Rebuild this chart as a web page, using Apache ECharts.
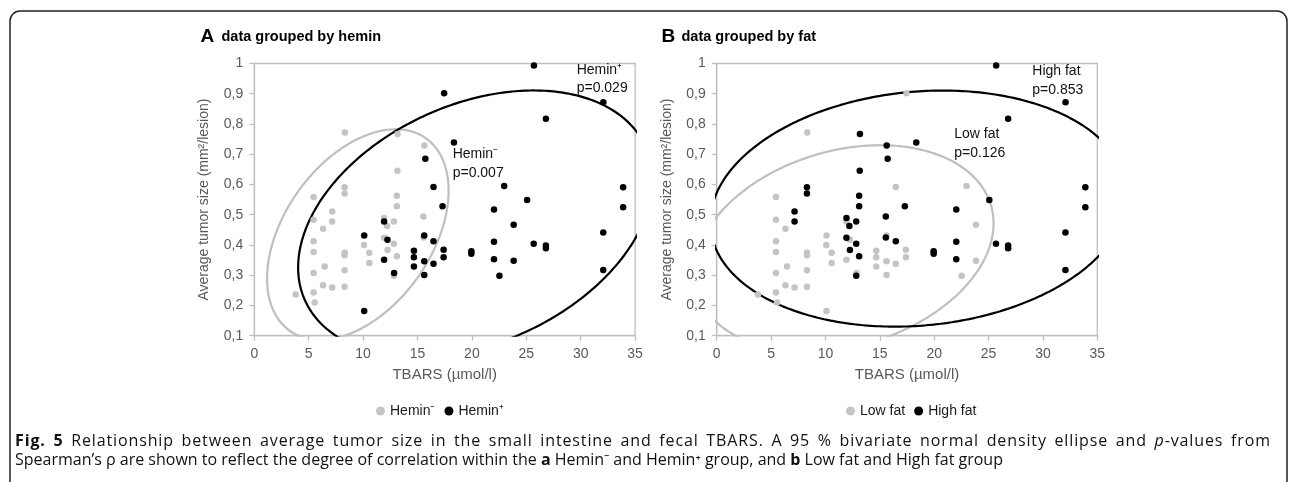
<!DOCTYPE html>
<html><head><meta charset="utf-8">
<script src="https://cdn.jsdelivr.net/npm/echarts@6/dist/echarts.min.js"></script>
<style>html,body{margin:0;padding:0;background:#fff}#c{width:1290px;height:482px}</style>
</head><body><div id="c"></div>
<script>
// ---- data (TBARS µmol/l, average tumor size mm²/lesion) ----
const xTickLabels = ['0','5','10','15','20','25','30','35'];
const yTickLabels = ['0,1','0,2','0,3','0,4','0,5','0,6','0,7','0,8','0,9','1'];

const heminNegLowFat = [[5.45,0.559],[5.45,0.483],[6.32,0.454],[5.45,0.412],[5.45,0.377],[8.3,0.374],[8.3,0.366],[6.47,0.329],[5.45,0.307],[8.3,0.316],[6.32,0.267],[7.16,0.259],[8.3,0.262],[5.45,0.243],[3.8,0.236],[5.55,0.21],[10.08,0.40],[10.57,0.374],[10.57,0.34],[8.33,0.772]];
const heminNegHighFat = [[8.3,0.591],[8.3,0.570],[7.16,0.511],[7.16,0.478],[11.93,0.489],[12.2,0.463],[11.93,0.424],[12.25,0.383],[12.83,0.478],[12.83,0.404],[12.83,0.298],[13.1,0.563],[13.1,0.528],[13.1,0.363],[13.15,0.645],[15.55,0.494],[15.55,0.425],[15.63,0.729],[13.17,0.767]];
const heminPosLowFat = [[10.1,0.431],[10.1,0.182],[11.93,0.478],[12.24,0.417],[11.93,0.351],[12.85,0.307],[14.67,0.381],[14.67,0.359],[14.67,0.329],[15.62,0.431],[15.62,0.346],[15.62,0.301],[16.47,0.592],[16.47,0.338],[17.4,0.384],[17.4,0.359],[17.45,0.902],[22.97,0.595],[23.84,0.467],[23.84,0.348],[22.53,0.298]];
const heminPosHighFat = [[16.47,0.412],[17.3,0.528],[19.95,0.379],[19.95,0.371],[18.35,0.739],[15.72,0.685],[25.7,0.993],[32.08,0.872],[26.8,0.817],[33.9,0.591],[25.07,0.549],[33.9,0.525],[22.03,0.517],[32.07,0.441],[22.03,0.411],[25.68,0.404],[26.8,0.398],[26.8,0.389],[22.03,0.353],[32.07,0.317]];

const groupNamesA = ['Hemin\u207B','Hemin\u207A'];
const groupNamesB = ['Low fat','High fat'];
const pValuesA = ['p=0.007','p=0.029'];
const pValuesB = ['p=0.126','p=0.853'];
const CHI2_95_2DF = 5.991;

const captionLine1 = '{b|Fig. 5} Relationship between average tumor size in the small intestine and fecal TBARS. A 95 % bivariate normal density ellipse and {i|p}-values from';
const captionLine2 = 'Spearman\u2019s \u03C1 are shown to reflect the degree of correlation within the {b|a} Hemin\u207B and Hemin\u207A group, and {b|b} Low fat and High fat group';

// ---- derived groups ----
const heminNeg = heminNegLowFat.concat(heminNegHighFat);
const heminPos = heminPosLowFat.concat(heminPosHighFat);
const lowFat = heminNegLowFat.concat(heminPosLowFat);
const highFat = heminNegHighFat.concat(heminPosHighFat);

function densityEllipse(pts, k2, steps) {
  const n = pts.length;
  let mx = 0, my = 0;
  pts.forEach(p => { mx += p[0]; my += p[1]; });
  mx /= n; my /= n;
  let sxx = 0, syy = 0, sxy = 0;
  pts.forEach(p => { const dx = p[0]-mx, dy = p[1]-my; sxx += dx*dx; syy += dy*dy; sxy += dx*dy; });
  sxx /= (n-1); syy /= (n-1); sxy /= (n-1);
  const l11 = Math.sqrt(sxx), l21 = sxy/l11, l22 = Math.sqrt(syy - l21*l21);
  const k = Math.sqrt(k2), out = [];
  for (let i = 0; i <= steps; i++) {
    const t = 2*Math.PI*i/steps, u = Math.cos(t), v = Math.sin(t);
    out.push([mx + k*l11*u, my + k*(l21*u + l22*v)]);
  }
  return out;
}

const GRAY = '#c4c4c4', BLACK = '#000000', AXIS = '#bfbfbf', TICK_TXT = '#595959';
const FAM = "'Liberation Sans', Arial, sans-serif";
const CAPFAM = "'Open Sans', sans-serif";

function xAxis(gi) {
  return { type:'value', gridIndex:gi, min:0, max:35, interval:5,
    name:'TBARS (\u00B5mol/l)', nameLocation:'middle', nameGap:32,
    nameTextStyle:{ fontSize:15, color:TICK_TXT, fontFamily:FAM },
    axisLine:{ lineStyle:{ color:AXIS, width:1.3 } },
    axisTick:{ show:true, length:5, lineStyle:{ color:AXIS, width:1.3 } },
    splitLine:{ show:false },
    axisLabel:{ fontSize:14, color:TICK_TXT, fontFamily:FAM, margin:11,
      formatter:(v)=> xTickLabels[Math.round(v/5)] } };
}
function yAxis(gi) {
  return { type:'value', gridIndex:gi, min:0.1, max:1, interval:0.1,
    name:'Average tumor size (mm\u00B2/lesion)', nameLocation:'middle', nameGap:43, nameRotate:90,
    nameTextStyle:{ fontSize:14, color:TICK_TXT, fontFamily:FAM },
    axisLine:{ show:true, lineStyle:{ color:AXIS, width:1.3 } },
    axisTick:{ show:true, length:5, lineStyle:{ color:AXIS, width:1.3 } },
    splitLine:{ show:false },
    axisLabel:{ fontSize:14, color:TICK_TXT, fontFamily:FAM, margin:11,
      formatter:(v)=> yTickLabels[Math.round(v*10)-1] } };
}
function ell(pts, color, gi, name) {
  return { type:'line', name:name, xAxisIndex:gi, yAxisIndex:gi, data:densityEllipse(pts, CHI2_95_2DF, 360),
    showSymbol:false, symbol:'none', clip:true, smooth:false, z:2, silent:true,
    lineStyle:{ color:color, width:2.2 } };
}
function sc(pts, color, gi, name) {
  return { type:'scatter', name:name, xAxisIndex:gi, yAxisIndex:gi, data:pts, symbol:'circle', symbolSize:6.5,
    itemStyle:{ color:color, opacity:1 }, z:3 };
}
function txt(x, y, s, font, fill) {
  return { type:'text', left:x, top:y - 9, style:{ text:s, font:font, fill:fill||'#111', verticalAlign:'top' } };
}

// ---- caption: first line justified (word spaces widened more than letters), second line natural ----
const capRich = { b:{ fontWeight:'bold', fontSize:16, fontFamily:CAPFAM }, i:{ fontStyle:'italic', fontSize:16, fontFamily:CAPFAM } };
const mctx = document.createElement('canvas').getContext('2d');
function capFont(st) { return (st==='b' ? 'bold ' : st==='i' ? 'italic ' : '') + '16px ' + CAPFAM; }
function glyphs(line) {
  const re = /\{(\w)\|([^}]*)\}|([^{]+)/g; let m; const out = [];
  while ((m = re.exec(line))) {
    const st = m[1] || '', s = m[1] ? m[2] : m[3];
    for (const ch of s) { mctx.font = capFont(st); out.push({ ch, st, w: mctx.measureText(ch).width }); }
  }
  return out;
}
function justifiedLine(line, x0, x1, top) {
  const g = glyphs(line);
  const natural = g.reduce((a, c) => a + c.w, 0);
  const SPACE_W = 4;
  let weight = 0;
  for (let i = 0; i < g.length - 1; i++) weight += (g[i].ch === ' ' ? SPACE_W : 1);
  const unit = (x1 - x0 - natural) / weight;
  let x = x0; const els = [];
  g.forEach(c => {
    if (c.ch !== ' ') els.push({ type:'text', left:x, top:top, silent:true, style:{ text:c.ch, font:capFont(c.st), fill:'#111' } });
    x += c.w + unit * (c.ch === ' ' ? SPACE_W : 1);
  });
  return els;
}

const chart = echarts.init(document.getElementById('c'), null, { renderer:'canvas' });
const aF = 'bold 19px ' + FAM, tF = 'bold 14.5px ' + FAM, nF = '14px ' + FAM;
chart.setOption({
  animation:false,
  backgroundColor:'#fff',
  grid:[ { left:254.3, top:63.5, width:380.8, height:272.2, show:true, borderColor:AXIS, borderWidth:1.3 },
         { left:716.7, top:63.5, width:380.6, height:272.2, show:true, borderColor:AXIS, borderWidth:1.3 } ],
  xAxis:[ xAxis(0), xAxis(1) ],
  yAxis:[ yAxis(0), yAxis(1) ],
  legend:[
    { data:groupNamesA, left:371, top:399, icon:'circle', itemWidth:9, itemHeight:9, itemGap:9, selectedMode:false,
      textStyle:{ fontSize:14, color:'#1a1a1a', fontFamily:FAM } },
    { data:groupNamesB, left:841, top:399, icon:'circle', itemWidth:9, itemHeight:9, itemGap:9, selectedMode:false,
      textStyle:{ fontSize:14, color:'#1a1a1a', fontFamily:FAM } } ],
  series:[
    ell(heminNeg, AXIS, 0, 'ellipse-neg'), ell(heminPos, BLACK, 0, 'ellipse-pos'),
    sc(heminNeg, GRAY, 0, groupNamesA[0]), sc(heminPos, BLACK, 0, groupNamesA[1]),
    ell(lowFat, AXIS, 1, 'ellipse-low'), ell(highFat, BLACK, 1, 'ellipse-high'),
    sc(lowFat, GRAY, 1, groupNamesB[0]), sc(highFat, BLACK, 1, groupNamesB[1]) ],
  graphic:[
    { type:'rect', shape:{ x:10, y:11, width:1277, height:530, r:10 }, style:{ fill:'none', stroke:'#222', lineWidth:1.5 }, silent:true },
    txt(200.5, 36, 'A', aF, '#000'),
    txt(221.5, 38, 'data grouped by hemin', tF, '#000'),
    txt(661.5, 36, 'B', aF, '#000'),
    txt(681.5, 38, 'data grouped by fat', tF, '#000'),
    txt(576.7, 72, groupNamesA[1], nF), txt(576.7, 90.5, pValuesA[1], nF),
    txt(452.7, 156, groupNamesA[0], nF), txt(452.7, 175, pValuesA[0], nF),
    txt(1032.3, 73, groupNamesB[1], nF), txt(1032.3, 92, pValuesB[1], nF),
    txt(954.3, 136, groupNamesB[0], nF), txt(954.3, 155, pValuesB[0], nF)
  ].concat(justifiedLine(captionLine1, 15, 1270, 433), [
    { type:'text', left:15, top:452, silent:true, style:{ text:captionLine2, font:'16px ' + CAPFAM, fill:'#111', rich:capRich } }
  ])
});
</script></body></html>
